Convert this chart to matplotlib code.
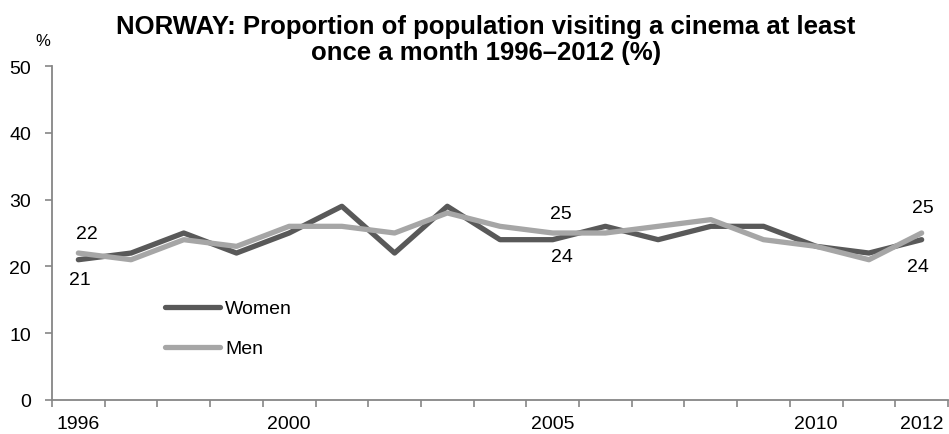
import matplotlib.pyplot as plt
import numpy as np

plt.rcParams['font.family'] = ['Liberation Sans', 'DejaVu Sans']

years = list(range(1996, 2013))
women = [21, 22, 25, 22, 25, 29, 22, 29, 24, 24, 26, 24, 26, 26, 23, 22, 24]
men = [22, 21, 24, 23, 26, 26, 25, 28, 26, 25, 25, 26, 27, 24, 23, 21, 25]
xtick_years = [1996, 2000, 2005, 2010, 2012]
yticks = [0, 10, 20, 30, 40, 50]

fig = plt.figure(figsize=(9.49, 4.35), dpi=100)
ax = fig.add_axes([52 / 949, 34 / 435, 896 / 949, 334 / 435])

ax.plot(years, women, color='#595959', lw=3.8, label='Women', solid_capstyle='round')
ax.plot(years, men, color='#a6a6a6', lw=3.8, label='Men', solid_capstyle='round')

ax.set_xlim(1995.5, 2012.5)
ax.set_ylim(0, 50)

for s in ['top', 'right']:
    ax.spines[s].set_visible(False)
for s in ['left', 'bottom']:
    ax.spines[s].set_color('#868686')
    ax.spines[s].set_linewidth(1.3)

# category boundaries as ticks, labels at chosen years
ax.set_xticks(np.arange(1995.5, 2012.6, 1))
ax.set_xticklabels([])
ax.set_xticks(xtick_years, minor=True)
ax.set_xticklabels([str(y) for y in xtick_years], minor=True, fontsize=14)
ax.tick_params(axis='x', which='major', length=5, color='#868686', width=1.2)
ax.tick_params(axis='x', which='minor', length=0, pad=11)
ax.set_yticks(yticks)
ax.set_yticklabels([str(v) for v in yticks], fontsize=14)
ax.tick_params(axis='y', length=5, color='#868686', width=1.2, pad=10)

# data labels
def lab(x, y, t, dx, dy):
    ax.annotate(t, (x, y), xytext=(dx, dy), textcoords='offset points',
                ha='center', va='center', fontsize=14)

lab(1996, men[0], '22', 6, 14)
lab(1996, women[0], '21', 1, -14)
lab(2005, men[9], '25', 6, 14)
lab(2005, women[9], '24', 7, -12)
lab(2012, men[16], '25', 1, 18)
lab(2012, women[16], '24', -3, -19)

ax.legend(loc='upper left', bbox_to_anchor=(0.126, 0.30), frameon=False,
          fontsize=14, handlelength=2.85, handletextpad=0.25, labelspacing=1.15,
          borderpad=0, borderaxespad=0)

fig.text(43 / 949, 1 - 42 / 435, '%', fontsize=12, ha='center', va='center')
fig.text(486 / 949, 1 - 40 / 435,
         'NORWAY: Proportion of population visiting a cinema at least\nonce a month 1996\u20132012 (%)',
         ha='center', va='center', fontsize=18.5, fontweight='bold', linespacing=1.08)

fig.savefig('out.png', dpi=100)
